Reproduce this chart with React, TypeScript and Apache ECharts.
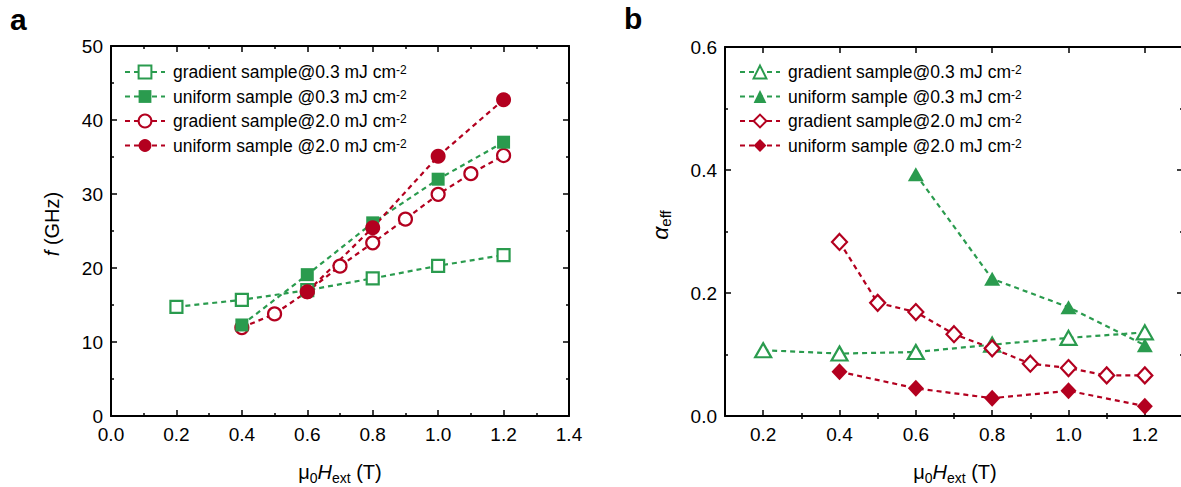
import React, { useEffect, useRef } from "react";
import * as echarts from "echarts";

// Panel a: resonance frequency f (GHz) vs. field
const aGradLowX = [0.2, 0.4, 0.6, 0.8, 1.0, 1.2];
const aGradLowY = [14.75, 15.7, 17.0, 18.6, 20.3, 21.75];
const aUniLowX = [0.4, 0.6, 0.8, 1.0, 1.2];
const aUniLowY = [12.3, 19.1, 26.1, 32.0, 37.0];
const aGradHighX = [0.4, 0.5, 0.6, 0.7, 0.8, 0.9, 1.0, 1.1, 1.2];
const aGradHighY = [11.95, 13.8, 16.8, 20.25, 23.4, 26.6, 29.95, 32.75, 35.2];
const aUniHighX = [0.6, 0.8, 1.0, 1.2];
const aUniHighY = [16.8, 25.45, 35.1, 42.75];

// Panel b: effective damping alpha_eff vs. field
const bGradLowX = [0.2, 0.4, 0.6, 0.8, 1.0, 1.2];
const bGradLowY = [0.107, 0.1015, 0.104, 0.116, 0.127, 0.136];
const bUniLowX = [0.6, 0.8, 1.0, 1.2];
const bUniLowY = [0.393, 0.223, 0.177, 0.115];
const bGradHighX = [0.4, 0.5, 0.6, 0.7, 0.8, 0.9, 1.0, 1.1, 1.2];
const bGradHighY = [0.283, 0.184, 0.169, 0.133, 0.11, 0.085, 0.078, 0.066, 0.066];
const bUniHighX = [0.4, 0.6, 0.8, 1.0, 1.2];
const bUniHighY = [0.072, 0.045, 0.029, 0.041, 0.016];

const legendLabels = [
  "gradient sample@0.3 mJ cm",
  "uniform sample @0.3 mJ cm",
  "gradient sample@2.0 mJ cm",
  "uniform sample @2.0 mJ cm",
];

const bMajorX = [0.2, 0.4, 0.6, 0.8, 1.0, 1.2];
const bMinorX = [0.3, 0.5, 0.7, 0.9, 1.1];

const GREEN = "#2a9b4e";
const RED = "#b3001f";
const FONT = "'Liberation Sans', Arial, Helvetica, sans-serif";

const pairs = (xs: number[], ys: number[]) => xs.map((x, i) => [x, ys[i]]);

function makeSeries(
  id: string,
  xs: number[],
  ys: number[],
  color: string,
  symbol: string,
  size: number | number[],
  filled: boolean,
  panel: number
) {
  return {
    name: id,
    type: "line",
    xAxisIndex: panel === 0 ? 0 : 2,
    yAxisIndex: panel === 0 ? 0 : 2,
    data: pairs(xs, ys),
    symbol,
    symbolSize: size,
    showAllSymbol: true,
    lineStyle: { color, width: 2.2, type: [5, 4] },
    itemStyle: filled
      ? { color, borderColor: color, borderWidth: 0 }
      : { color: "#ffffff", borderColor: color, borderWidth: 2.2 },
    emphasis: { disabled: true },
  };
}

const axisLine = { show: true, onZero: false, lineStyle: { color: "#000", width: 2 } };
const majorTick = { show: true, inside: true, length: 6, lineStyle: { color: "#000", width: 1.5 } };
const minorTick = { show: true, splitNumber: 2, length: 3, lineStyle: { color: "#000", width: 1.5 } };
const tickLabel = {
  show: true,
  color: "#000",
  fontSize: 19,
  fontFamily: FONT,
  margin: 9,
};

const fieldTitleRich = {
  m: { fontSize: 20, fontFamily: FONT, lineHeight: 26, verticalAlign: "middle" },
  i: { fontStyle: "italic", fontSize: 20, fontFamily: FONT, lineHeight: 26, verticalAlign: "middle" },
  sub: { fontSize: 14, fontFamily: FONT, lineHeight: 26, verticalAlign: "bottom" },
};

export default function App() {
  const ref = useRef<HTMLDivElement>(null);

  useEffect(() => {
    if (!ref.current) return;
    const chart = echarts.init(ref.current, undefined, { renderer: "svg" });

    const legendCommon = {
      orient: "vertical",
      padding: 0,
      itemWidth: 40,
      itemHeight: 16,
      itemGap: 6.5,
      selectedMode: false,
      textStyle: {
        fontSize: 17.5,
        fontFamily: FONT,
        color: "#000",
        lineHeight: 16,
        padding: [0, 0, 0, 3],
        rich: {
          sup: { fontSize: 12, fontFamily: FONT, verticalAlign: "top", lineHeight: 10, color: "#000" },
        },
      },
      formatter: (name: string) => legendLabels[Number(name.slice(-1))] + "{sup|-2}",
    };

    const option = {
      animation: false,
      textStyle: { fontFamily: FONT },
      grid: [
        { left: 111, top: 46, width: 458, height: 370, outerBoundsMode: "none" },
        { left: 725, top: 47, width: 458, height: 369, outerBoundsMode: "none" },
      ],
      xAxis: [
        {
          gridIndex: 0, type: "value", position: "bottom", min: 0, max: 1.4, interval: 0.2,
          axisLine, axisTick: majorTick, minorTick, splitLine: { show: false }, minorSplitLine: { show: false },
          axisLabel: { ...tickLabel, formatter: (v: number) => v.toFixed(1) },
        },
        {
          gridIndex: 0, type: "value", position: "top", min: 0, max: 1.4, interval: 0.2,
          axisLine, axisTick: majorTick, minorTick, splitLine: { show: false },
          axisLabel: { show: false },
        },
        {
          gridIndex: 1, type: "value", position: "bottom", min: 0.1, max: 1.3, interval: 0.1,
          axisLine, axisTick: { ...majorTick, customValues: bMajorX }, splitLine: { show: false },
          axisLabel: { ...tickLabel, customValues: bMajorX, formatter: (v: number) => v.toFixed(1) },
        },
        {
          gridIndex: 1, type: "value", position: "top", min: 0.1, max: 1.3, interval: 0.1,
          axisLine, axisTick: { ...majorTick, customValues: bMajorX }, splitLine: { show: false },
          axisLabel: { show: false },
        },
        {
          gridIndex: 1, type: "value", position: "bottom", min: 0.1, max: 1.3, interval: 0.1,
          axisLine: { show: false }, axisTick: { ...majorTick, length: 3, customValues: bMinorX },
          splitLine: { show: false }, axisLabel: { show: false },
        },
        {
          gridIndex: 1, type: "value", position: "top", min: 0.1, max: 1.3, interval: 0.1,
          axisLine: { show: false }, axisTick: { ...majorTick, length: 3, customValues: bMinorX },
          splitLine: { show: false }, axisLabel: { show: false },
        },
      ],
      yAxis: [
        {
          gridIndex: 0, type: "value", position: "left", min: 0, max: 50, interval: 10,
          axisLine, axisTick: majorTick, minorTick, splitLine: { show: false },
          axisLabel: { ...tickLabel, margin: 8 },
        },
        {
          gridIndex: 0, type: "value", position: "right", min: 0, max: 50, interval: 10,
          axisLine, axisTick: majorTick, minorTick, splitLine: { show: false },
          axisLabel: { show: false },
        },
        {
          gridIndex: 1, type: "value", position: "left", min: 0, max: 0.6, interval: 0.2,
          axisLine, axisTick: majorTick, minorTick, splitLine: { show: false },
          axisLabel: { ...tickLabel, margin: 8, formatter: (v: number) => v.toFixed(1) },
        },
        {
          gridIndex: 1, type: "value", position: "right", min: 0, max: 0.6, interval: 0.2,
          axisLine, axisTick: majorTick, minorTick, splitLine: { show: false },
          axisLabel: { show: false },
        },
      ],
      legend: [
        { ...legendCommon, left: 124, top: 63, data: ["a0", "a1", "a2", "a3"] },
        { ...legendCommon, left: 739, top: 63, data: ["b0", "b1", "b2", "b3"] },
      ],
      series: [
        makeSeries("a2", aGradHighX, aGradHighY, RED, "circle", 13, false, 0),
        makeSeries("a0", aGradLowX, aGradLowY, GREEN, "rect", 12, false, 0),
        makeSeries("a1", aUniLowX, aUniLowY, GREEN, "rect", 13, true, 0),
        makeSeries("a3", aUniHighX, aUniHighY, RED, "circle", 15, true, 0),
        makeSeries("b0", bGradLowX, bGradLowY, GREEN, "triangle", [16, 14], false, 1),
        makeSeries("b1", bUniLowX, bUniLowY, GREEN, "triangle", [16, 14], true, 1),
        makeSeries("b2", bGradHighX, bGradHighY, RED, "diamond", [15, 16], false, 1),
        makeSeries("b3", bUniHighX, bUniHighY, RED, "diamond", [16, 17], true, 1),
      ],
      graphic: [
        { type: "text", left: 10, top: 4, style: { text: "a", font: `bold 30px ${FONT}`, fill: "#000" } },
        { type: "text", left: 624, top: 3, style: { text: "b", font: `bold 30px ${FONT}`, fill: "#000" } },
        {
          type: "text", x: 52, y: 224, rotation: Math.PI / 2,
          style: {
            text: "{i|f} (GHz)", fill: "#000", font: `20px ${FONT}`, align: "center", verticalAlign: "middle",
            rich: { i: { fontStyle: "italic", fontSize: 20, fontFamily: FONT } },
          },
        },
        {
          type: "text", x: 660, y: 225, rotation: Math.PI / 2,
          style: {
            text: "{i|α}{sub|eff}", fill: "#000", font: `20px ${FONT}`, align: "center", verticalAlign: "middle",
            rich: {
              i: { fontStyle: "italic", fontSize: 23, fontFamily: FONT, lineHeight: 26, verticalAlign: "middle" },
              sub: { fontSize: 15, fontFamily: FONT, lineHeight: 26, verticalAlign: "bottom" },
            },
          },
        },
        {
          type: "text", x: 340, y: 472,
          style: {
            text: "{m|μ}{sub|0}{i|H}{sub|ext}{m| (T)}", fill: "#000", font: `20px ${FONT}`,
            align: "center", verticalAlign: "middle", rich: fieldTitleRich,
          },
        },
        {
          type: "text", x: 955, y: 472,
          style: {
            text: "{m|μ}{sub|0}{i|H}{sub|ext}{m| (T)}", fill: "#000", font: `20px ${FONT}`,
            align: "center", verticalAlign: "middle", rich: fieldTitleRich,
          },
        },
      ],
    };

    chart.setOption(option as any);
    return () => chart.dispose();
  }, []);

  return (
    <div
      ref={ref}
      style={{ position: "fixed", left: 0, top: 0, width: 1181, height: 487, background: "#fff" }}
    />
  );
}
